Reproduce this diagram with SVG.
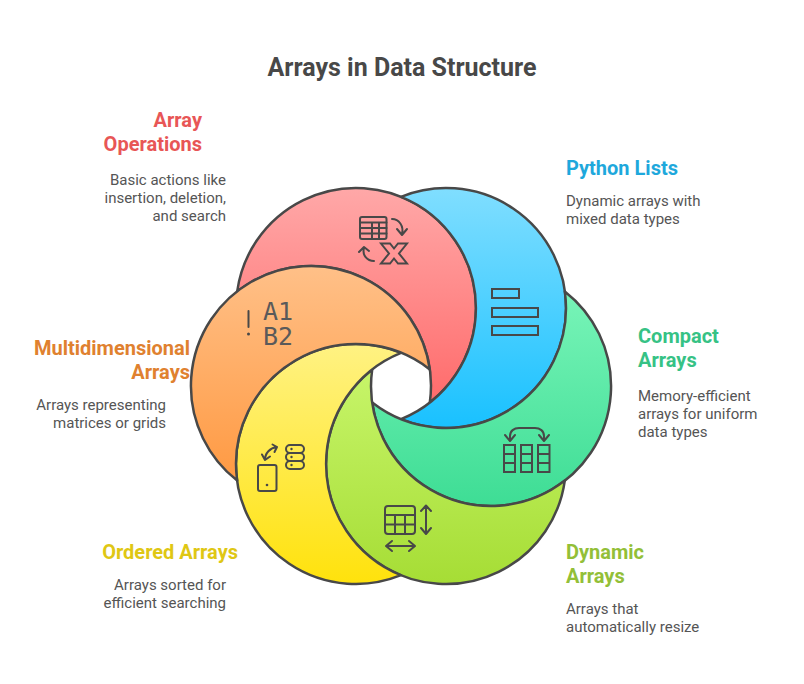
<svg xmlns="http://www.w3.org/2000/svg" width="804" height="684" viewBox="0 0 804 684">
<style>
text{font-family:Roboto,"Liberation Sans",sans-serif}
.t{font-size:25px;font-weight:700;fill:#484848;text-anchor:middle}
.h{font-size:20px;font-weight:700}
.d{font-size:15px;fill:#555}
.e{text-anchor:end}
.s{stroke:#484848;stroke-width:2.500;stroke-linejoin:round}
.i{fill:none;stroke:#484848;stroke-width:2;stroke-linecap:round;stroke-linejoin:round}
.g{font-family:"DejaVu Sans Mono",monospace;font-size:25px;fill:#5a5a5a}
</style>
<defs>
<linearGradient id="gr" gradientUnits="userSpaceOnUse" x1="0" x2="0" y1="188" y2="428"><stop offset="0" stop-color="#FFA8A8"/><stop offset="1" stop-color="#FF6464"/></linearGradient>
<linearGradient id="gb" gradientUnits="userSpaceOnUse" x1="0" x2="0" y1="188" y2="428"><stop offset="0" stop-color="#80DEFF"/><stop offset="1" stop-color="#19C1FF"/></linearGradient>
<linearGradient id="gg" gradientUnits="userSpaceOnUse" x1="0" x2="0" y1="266" y2="506"><stop offset="0" stop-color="#7FF7BC"/><stop offset="1" stop-color="#3EDD95"/></linearGradient>
<linearGradient id="gl" gradientUnits="userSpaceOnUse" x1="0" x2="0" y1="344" y2="584"><stop offset="0" stop-color="#CBF870"/><stop offset="1" stop-color="#A6DD35"/></linearGradient>
<linearGradient id="gy" gradientUnits="userSpaceOnUse" x1="0" x2="0" y1="344" y2="584"><stop offset="0" stop-color="#FFF283"/><stop offset="1" stop-color="#FFE20C"/></linearGradient>
<linearGradient id="go" gradientUnits="userSpaceOnUse" x1="0" x2="0" y1="266" y2="506"><stop offset="0" stop-color="#FFC088"/><stop offset="1" stop-color="#FF953A"/></linearGradient>
</defs>
<rect width="804" height="684" fill="#fff"/>
<text class="t" x="402" y="76">Arrays in Data Structure</text>

<g id="node-operations">
<path class="s" fill="url(#gr)" d="M237.2 291.4A120 120 0 1 1 429.8 402.6A120 120 0 0 0 237.2 291.4Z"/>
<rect class="i" x="360" y="217" width="26.500" height="22" rx="2"/>
<path class="i" d="M360 222.500H386.500M360 228H386.500M360 233.500H386.500M372 222.500V239M379 222.500V239"/>
<path class="i" d="M392 219C399 219 404 226 402 234M397 229L402 235L407 229"/>
<path class="i" d="M374 261C367 261 362 255 364 248M359 252L364 247L369 251"/>
<path fill="none" stroke="#484848" stroke-width="2" stroke-linejoin="miter" d="M381 243.500H390L394 248.500L398 243.500H407L399 253.500L407 263.500H398L394 258.500L390 263.500H381L389 253.500Z"/>
</g>

<g id="node-lists">
<path class="s" fill="url(#gb)" d="M401 196.800A120 120 0 1 1 401 419.200A120 120 0 0 0 401 196.800Z"/>
<path fill="none" stroke="#484848" stroke-width="2" d="M492 289H519V298H492ZM492 308H538V317H492ZM492 326H538V335H492Z"/>
</g>

<g id="node-compact">
<path class="s" fill="url(#gg)" d="M564.800 291.400A120 120 0 1 1 372.200 402.600A120 120 0 0 0 564.800 291.400Z"/>
<path class="i" d="M510 440V436C510 431 514 428 519 428H535C540 428 544 431 544 436V440M505 435L510 441L515 435M539 435L544 441L549 435"/>
<path fill="none" stroke="#484848" stroke-width="2" d="M504 445H515V472H504ZM504 454H515M504 463H515M521 445H532V472H521ZM521 454H532M521 463H532M538 445H549.500V472H538ZM538 454H549.500M538 463H549.500"/>
</g>

<g id="node-dynamic">
<path class="s" fill="url(#gl)" d="M564.800 480.600A120 120 0 1 1 372.200 369.400A120 120 0 0 0 564.800 480.600Z"/>
<rect class="i" x="385" y="506" width="30" height="28" rx="3"/>
<path class="i" d="M385 515H415M385 524.500H415M395 515V534M405 515V534"/>
<path class="i" d="M426 506V533.500M421 511L426 505.500L431 511M421 528L426 534L431 528"/>
<path class="i" d="M387 546H414M392 541L386 546L392 551M409 541L415 546L409 551"/>
</g>

<g id="node-ordered">
<path class="s" fill="url(#gy)" d="M401 575.200A120 120 0 1 1 401 352.800A120 120 0 0 0 401 575.200Z"/>
<rect class="i" x="258" y="465" width="18.500" height="26" rx="2"/>
<circle cx="267" cy="485" r="1.300" fill="#484848"/>
<path class="i" d="M265 460C265 453 270 448 277 447M262 454.500L265 460L270 456.500M272.500 444.500L277 447L274.500 452"/>
<rect class="i" x="286" y="445" width="18" height="8" rx="4"/>
<rect class="i" x="286" y="453" width="18" height="8" rx="4"/>
<rect class="i" x="286" y="461" width="18" height="8" rx="4"/>
<circle cx="291.500" cy="449" r="1.200" fill="#484848"/><circle cx="291.500" cy="457" r="1.200" fill="#484848"/><circle cx="291.500" cy="465" r="1.200" fill="#484848"/>
</g>

<g id="node-multi">
<path class="s" fill="url(#go)" d="M237.200 480.600A120 120 0 1 1 429.800 369.400A120 120 0 0 0 237.200 480.600Z"/>
<text class="g" x="263" y="319.500">A1</text>
<text class="g" x="263" y="345">B2</text>
<path class="i" d="M248.500 311V327"/>
<circle cx="248.500" cy="334" r="1.500" fill="#484848"/>
</g>

<text class="h e" x="202" y="127" fill="#E85656">Array</text>
<text class="h e" x="202" y="151" fill="#E85656">Operations</text>
<text class="d e" x="226" y="185">Basic actions like</text>
<text class="d e" x="226" y="203">insertion, deletion,</text>
<text class="d e" x="226" y="221">and search</text>

<text class="h" x="566" y="175" fill="#1EA8DC">Python Lists</text>
<text class="d" x="566" y="206">Dynamic arrays with</text>
<text class="d" x="566" y="224">mixed data types</text>

<text class="h" x="638" y="343" fill="#36C285">Compact</text>
<text class="h" x="638" y="367" fill="#36C285">Arrays</text>
<text class="d" x="638" y="401">Memory-efficient</text>
<text class="d" x="638" y="419">arrays for uniform</text>
<text class="d" x="638" y="437">data types</text>

<text class="h" x="566" y="559" fill="#93BF38">Dynamic</text>
<text class="h" x="566" y="583" fill="#93BF38">Arrays</text>
<text class="d" x="566" y="614">Arrays that</text>
<text class="d" x="566" y="632">automatically resize</text>

<text class="h e" x="238" y="559" fill="#DFC714">Ordered Arrays</text>
<text class="d e" x="226" y="590">Arrays sorted for</text>
<text class="d e" x="226" y="608">efficient searching</text>

<text class="h e" x="190" y="355" fill="#E0812F">Multidimensional</text>
<text class="h e" x="190" y="379" fill="#E0812F">Arrays</text>
<text class="d e" x="166" y="410">Arrays representing</text>
<text class="d e" x="166" y="428">matrices or grids</text>
</svg>
